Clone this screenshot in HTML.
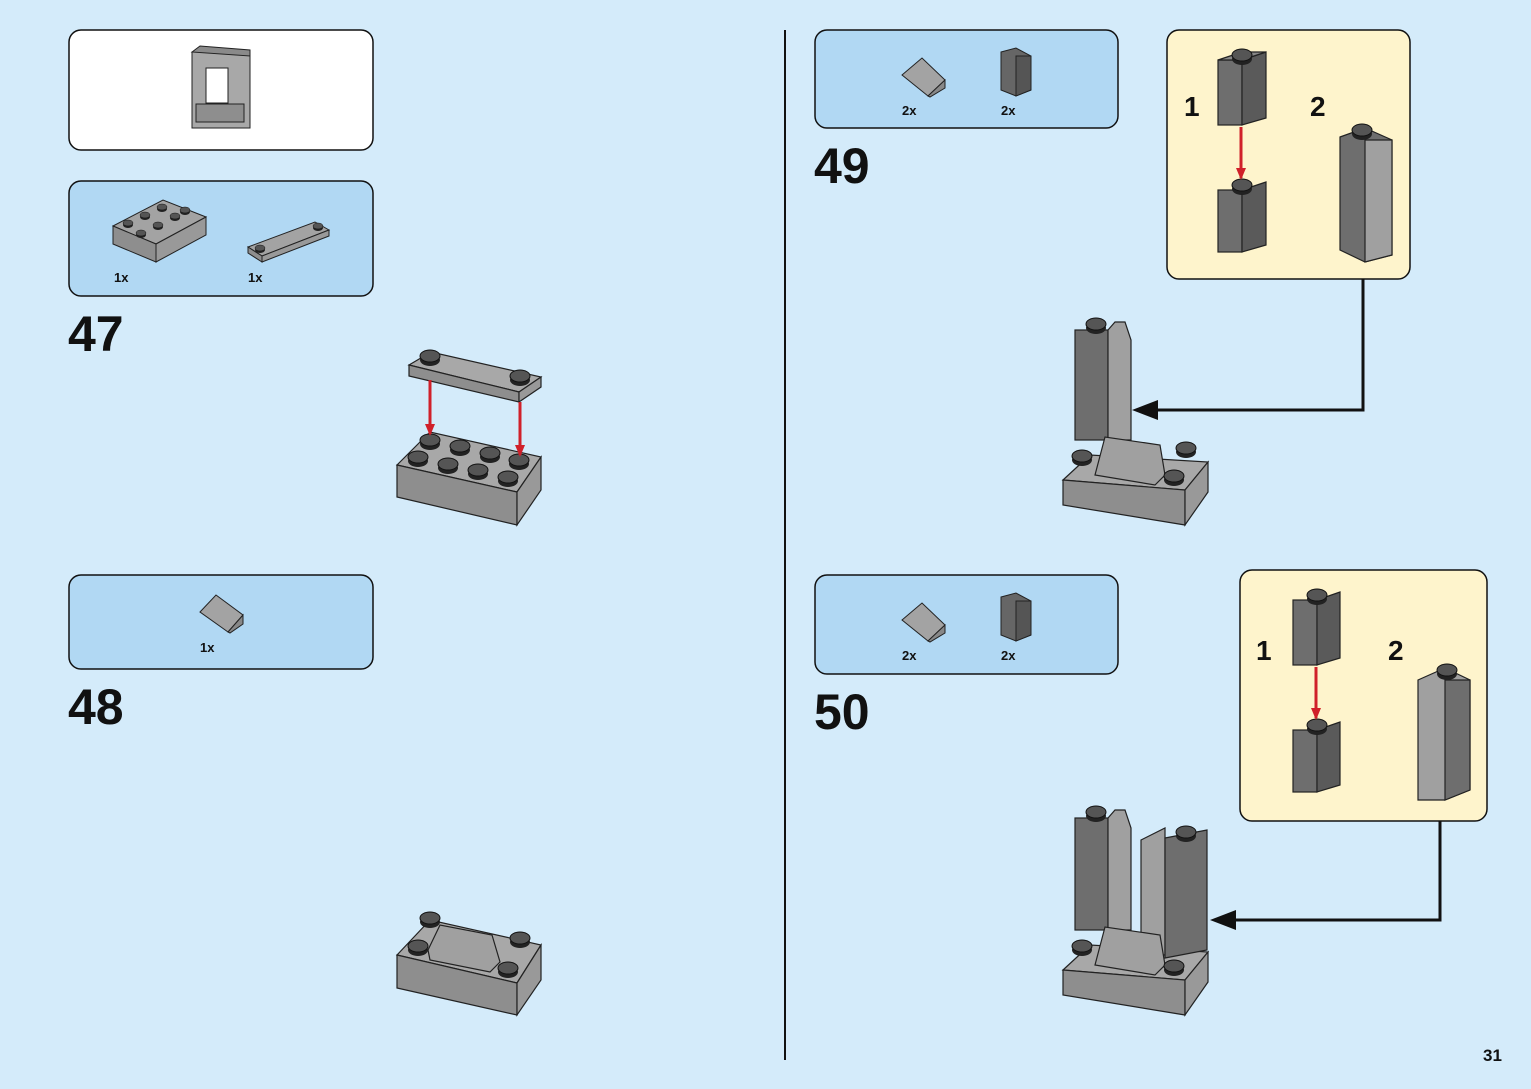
<!DOCTYPE html>
<html><head><style>
html,body{margin:0;padding:0;background:#d4ebfa;}
svg{display:block}
text{font-family:"Liberation Sans",Arial,sans-serif;font-weight:bold;fill:#111}
</style></head><body>
<svg width="1531" height="1089" viewBox="0 0 1531 1089" xmlns="http://www.w3.org/2000/svg">
<defs>
<marker id="ar" markerUnits="userSpaceOnUse" markerWidth="12" markerHeight="12" refX="10" refY="6" orient="auto"><path d="M0,1L12,6L0,11z" fill="#d0202a"/></marker>
<g id="stud"><ellipse cx="0" cy="4" rx="10" ry="6" fill="#222"/><ellipse cx="0" cy="0" rx="10" ry="6" fill="#555" stroke="#111"/></g>
</defs>
<rect width="1531" height="1089" fill="#d4ebfa"/>
<rect x="69" y="30" width="304" height="120" rx="12" fill="#fff" stroke="#111" stroke-width="1.5"/>
<rect x="69" y="181" width="304" height="115" rx="12" fill="#b1d8f3" stroke="#111" stroke-width="1.5"/>
<rect x="69" y="575" width="304" height="94" rx="12" fill="#b1d8f3" stroke="#111" stroke-width="1.5"/>
<rect x="815" y="30" width="303" height="98" rx="12" fill="#b1d8f3" stroke="#111" stroke-width="1.5"/>
<rect x="815" y="575" width="303" height="99" rx="12" fill="#b1d8f3" stroke="#111" stroke-width="1.5"/>
<rect x="1167" y="30" width="243" height="249" rx="12" fill="#fef4cc" stroke="#111" stroke-width="1.5"/>
<rect x="1240" y="570" width="247" height="251" rx="12" fill="#fef4cc" stroke="#111" stroke-width="1.5"/>
<line x1="785" y1="30" x2="785" y2="1060" stroke="#111" stroke-width="2"/>
<polyline points="1363,279 1363,410 1150,410" fill="none" stroke="#111" stroke-width="3"/>
<path d="M1132,410L1158,400L1158,420z" fill="#111"/>
<polyline points="1440,821 1440,920 1228,920" fill="none" stroke="#111" stroke-width="3"/>
<path d="M1210,920L1236,910L1236,930z" fill="#111"/>
<text x="68" y="351" font-size="50">47</text>
<text x="68" y="724" font-size="50">48</text>
<text x="814" y="183" font-size="50">49</text>
<text x="814" y="729" font-size="50">50</text>
<text x="1184" y="116" font-size="28">1</text>
<text x="1310" y="116" font-size="28">2</text>
<text x="1256" y="660" font-size="28">1</text>
<text x="1388" y="660" font-size="28">2</text>
<text x="1483" y="1061" font-size="17">31</text>
<g font-size="13">
<text x="114" y="282">1x</text><text x="248" y="282">1x</text>
<text x="200" y="652">1x</text>
<text x="902" y="115">2x</text><text x="1001" y="115">2x</text>
<text x="902" y="660">2x</text><text x="1001" y="660">2x</text>
</g>
<g stroke="#222" stroke-width="1">
<rect x="192" y="52" width="58" height="76" fill="#a8a8a8"/>
<rect x="206" y="68" width="22" height="35" fill="#fff"/>
<rect x="196" y="104" width="48" height="18" fill="#8e8e8e"/>
<polygon points="192,52 200,46 250,50 250,56" fill="#8a8a8a"/>
</g>
<g stroke="#222">
<polygon points="113,226 163,200 206,217 156,244" fill="#a3a3a3"/>
<polygon points="113,226 156,244 156,262 113,244" fill="#8e8e8e"/>
<polygon points="156,244 206,217 206,235 156,262" fill="#999"/>
<polygon points="248,247 315,222 329,230 262,256" fill="#a3a3a3"/>
<polygon points="248,247 262,256 262,262 248,253" fill="#8e8e8e"/>
<polygon points="262,256 329,230 329,236 262,262" fill="#999"/>
</g>
<g transform="scale(0.5)"><use href="#stud" x="256" y="446"/><use href="#stud" x="290" y="430"/><use href="#stud" x="324" y="414"/><use href="#stud" x="282" y="466"/><use href="#stud" x="316" y="450"/><use href="#stud" x="350" y="432"/><use href="#stud" x="370" y="420"/><use href="#stud" x="520" y="496"/><use href="#stud" x="636" y="452"/></g>
<g stroke="#222"><polygon points="200,612 216,595 243,615 228,632" fill="#a3a3a3"/><polygon points="228,632 243,615 243,624 230,633" fill="#888"/></g>
<g stroke="#222" stroke-width="1.2">
<polygon points="409,365 431,352 541,377 519,392" fill="#a8a8a8"/>
<polygon points="409,365 519,392 519,402 409,376" fill="#8e8e8e"/>
<polygon points="519,392 541,377 541,387 519,402" fill="#999"/>
<polygon points="397,465 430,432 541,457 517,492" fill="#a8a8a8"/>
<polygon points="397,465 517,492 517,525 397,497" fill="#8e8e8e"/>
<polygon points="517,492 541,457 541,490 517,525" fill="#999"/>
</g>
<use href="#stud" x="430" y="356"/><use href="#stud" x="520" y="376"/>
<use href="#stud" x="430" y="440"/><use href="#stud" x="460" y="446"/><use href="#stud" x="490" y="453"/><use href="#stud" x="519" y="460"/>
<use href="#stud" x="418" y="457"/><use href="#stud" x="448" y="464"/><use href="#stud" x="478" y="470"/><use href="#stud" x="508" y="477"/>
<line x1="430" y1="380" x2="430" y2="434" stroke="#d0202a" stroke-width="3" marker-end="url(#ar)"/>
<line x1="520" y1="402" x2="520" y2="455" stroke="#d0202a" stroke-width="3" marker-end="url(#ar)"/>
<g stroke="#222" stroke-width="1.2">
<polygon points="397,955 430,920 541,945 517,983" fill="#a8a8a8"/>
<polygon points="397,955 517,983 517,1015 397,988" fill="#8e8e8e"/>
<polygon points="517,983 541,945 541,980 517,1015" fill="#999"/>
<polygon points="428,950 440,925 492,935 500,962 490,972 430,960" fill="#a0a0a0"/>
</g>
<use href="#stud" x="430" y="918"/><use href="#stud" x="520" y="938"/><use href="#stud" x="418" y="946"/><use href="#stud" x="508" y="968"/>
<g stroke="#222"><polygon points="902,75 922,58 945,80 928,96" fill="#a3a3a3"/><polygon points="928,96 945,80 945,88 930,97" fill="#888"/>
<polygon points="1001,52 1016,48 1031,56 1031,90 1016,96 1001,90" fill="#666"/><polygon points="1016,56 1031,56 1031,90 1016,96" fill="#555"/>
<polygon points="902,620 922,603 945,625 928,641" fill="#a3a3a3"/><polygon points="928,641 945,625 945,633 930,642" fill="#888"/>
<polygon points="1001,597 1016,593 1031,601 1031,635 1016,641 1001,635" fill="#666"/><polygon points="1016,601 1031,601 1031,635 1016,641" fill="#555"/></g>
<g stroke="#222" stroke-width="1.2">
<rect x="1218" y="60" width="24" height="65" fill="#6e6e6e"/><polygon points="1242,60 1266,52 1266,118 1242,125" fill="#5a5a5a"/><polygon points="1218,60 1242,52 1266,52 1242,60" fill="#888"/>
<rect x="1218" y="190" width="24" height="62" fill="#6e6e6e"/><polygon points="1242,190 1266,182 1266,245 1242,252" fill="#5a5a5a"/>
<polygon points="1340,137 1365,128 1392,140 1392,255 1365,262 1340,250" fill="#6e6e6e"/><polygon points="1365,140 1392,140 1392,255 1365,262" fill="#a0a0a0"/>
</g>
<use href="#stud" x="1242" y="55"/><use href="#stud" x="1242" y="185"/><use href="#stud" x="1362" y="130"/>
<line x1="1241" y1="127" x2="1241" y2="178" stroke="#d0202a" stroke-width="3" marker-end="url(#ar)"/>
<g stroke="#222" stroke-width="1.2">
<rect x="1293" y="600" width="24" height="65" fill="#6e6e6e"/><polygon points="1317,600 1340,592 1340,658 1317,665" fill="#5a5a5a"/>
<rect x="1293" y="730" width="24" height="62" fill="#6e6e6e"/><polygon points="1317,730 1340,722 1340,785 1317,792" fill="#5a5a5a"/>
<polygon points="1418,680 1445,668 1470,680 1470,790 1445,800 1418,800" fill="#a0a0a0"/><polygon points="1445,680 1470,680 1470,790 1445,800" fill="#6e6e6e"/>
</g>
<use href="#stud" x="1317" y="595"/><use href="#stud" x="1317" y="725"/><use href="#stud" x="1447" y="670"/>
<line x1="1316" y1="667" x2="1316" y2="718" stroke="#d0202a" stroke-width="3" marker-end="url(#ar)"/>
<g stroke="#222" stroke-width="1.2">
<polygon points="1063,480 1090,455 1208,462 1185,490" fill="#a8a8a8"/>
<polygon points="1063,480 1185,490 1185,525 1063,505" fill="#8e8e8e"/>
<polygon points="1185,490 1208,462 1208,492 1185,525" fill="#999"/>
<rect x="1075" y="330" width="33" height="110" fill="#6e6e6e"/>
<polygon points="1108,330 1115,322 1125,322 1131,340 1131,440 1108,440" fill="#a0a0a0"/>
<polygon points="1095,475 1105,437 1160,445 1165,475 1155,485" fill="#a0a0a0"/>
</g>
<use href="#stud" x="1096" y="324"/><use href="#stud" x="1082" y="456"/><use href="#stud" x="1186" y="448"/><use href="#stud" x="1174" y="476"/>
<g stroke="#222" stroke-width="1.2">
<polygon points="1063,970 1090,945 1208,952 1185,980" fill="#a8a8a8"/>
<polygon points="1063,970 1185,980 1185,1015 1063,995" fill="#8e8e8e"/>
<polygon points="1185,980 1208,952 1208,982 1185,1015" fill="#999"/>
<rect x="1075" y="818" width="33" height="112" fill="#6e6e6e"/>
<polygon points="1108,818 1115,810 1125,810 1131,828 1131,930 1108,930" fill="#a0a0a0"/>
<polygon points="1141,840 1165,828 1165,955 1141,955" fill="#a0a0a0"/>
<polygon points="1165,838 1207,830 1207,950 1165,958" fill="#6e6e6e"/>
<polygon points="1095,965 1105,927 1160,935 1165,965 1155,975" fill="#a0a0a0"/>
</g>
<use href="#stud" x="1096" y="812"/><use href="#stud" x="1186" y="832"/><use href="#stud" x="1082" y="946"/><use href="#stud" x="1174" y="966"/>
</svg>
</body></html>
